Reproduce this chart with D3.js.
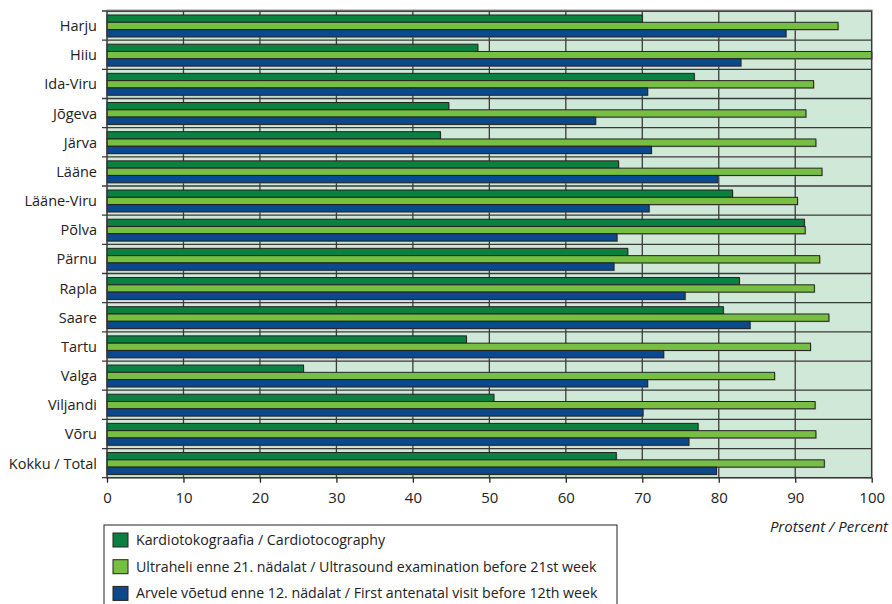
<!DOCTYPE html>
<html>
<head>
<meta charset="utf-8">
<script src="https://cdn.jsdelivr.net/npm/d3@7"></script>
<style>
  body { margin: 0; background: #fff; }
  svg { display: block; font-family: "Open Sans", sans-serif; }
</style>
</head>
<body>
<script>
// counties, top to bottom
var counties = ["Harju", "Hiiu", "Ida-Viru", "Jõgeva", "Järva", "Lääne", "Lääne-Viru", "Põlva",
  "Pärnu", "Rapla", "Saare", "Tartu", "Valga", "Viljandi", "Võru", "Kokku / Total"];

// series values, percent
var ctg = [70.0, 48.5, 76.8, 44.7, 43.6, 66.9, 81.8, 91.2, 68.1, 82.7, 80.6, 47.0, 25.7, 50.6, 77.3, 66.6];
var ultrasound = [95.6, 100, 92.4, 91.4, 92.7, 93.5, 90.3, 91.3, 93.2, 92.5, 94.4, 92.0, 87.3, 92.6, 92.7, 93.8];
var antenatal = [88.8, 82.9, 70.7, 63.9, 71.2, 79.9, 70.9, 66.7, 66.3, 75.6, 84.1, 72.8, 70.7, 70.1, 76.1, 79.7];

var seriesNames = ["Kardiotokograafia / Cardiotocography",
  "Ultraheli enne 21. nädalat / Ultrasound examination before 21st week",
  "Arvele võetud enne 12. nädalat / First antenatal visit before 12th week"];
var seriesColors = ["#0b8040", "#76bf43", "#0a4a8c"];
var xTicks = [0, 10, 20, 30, 40, 50, 60, 70, 80, 90, 100];

var w = 892, h = 604;
var margin = {top: 11, left: 107, right: 20, bottom: 126};
var pw = 871.7 - margin.left;
var ph = 477.7 - margin.top;

var svg = d3.select("body").append("svg")
  .attr("width", w)
  .attr("height", h);

var g = svg.append("g")
  .attr("transform", "translate(" + margin.left + "," + margin.top + ")");

var x = d3.scaleLinear().domain([0, 100]).range([0, pw]);
var y = d3.scaleBand().domain(counties).range([0, ph]).paddingInner(0.25).paddingOuter(0.125).align(0.55);
var ySub = d3.scaleBand().domain([0, 1, 2]).range([0, y.bandwidth()]);

// plot background
g.append("rect")
  .attr("width", pw)
  .attr("height", ph)
  .attr("fill", "#d0e8d8");

// vertical grid
g.selectAll(".vgrid")
  .data(xTicks.slice(1, -1))
  .enter().append("line")
  .attr("x1", d => x(d)).attr("x2", d => x(d))
  .attr("y1", 0).attr("y2", ph)
  .attr("stroke", "#3a3a3a")
  .attr("stroke-width", 1.3);

// horizontal lines at category boundaries
var step = ph / counties.length;
var bounds = d3.range(counties.length + 1).map(i => i * step);
g.selectAll(".hgrid")
  .data(bounds)
  .enter().append("line")
  .attr("x1", -5).attr("x2", pw)
  .attr("y1", d => d).attr("y2", d => d)
  .attr("stroke", "#3a3a3a")
  .attr("stroke-width", 1.3);

// bars
var rows = counties.map((c, i) => ({county: c, values: [ctg[i], ultrasound[i], antenatal[i]]}));
var groups = g.selectAll(".grp")
  .data(rows)
  .enter().append("g")
  .attr("transform", d => "translate(0," + y(d.county) + ")");

// faint shadow under bars
groups.selectAll(".shadow")
  .data(d => d.values)
  .enter().append("rect")
  .attr("x", 1)
  .attr("y", (d, i) => ySub(i) + 1)
  .attr("width", d => x(d))
  .attr("height", ySub.bandwidth())
  .attr("fill", "#9a9a9a")
  .attr("opacity", 0.6);

groups.selectAll(".bar")
  .data(d => d.values)
  .enter().append("rect")
  .attr("x", 0)
  .attr("y", (d, i) => ySub(i))
  .attr("width", d => x(d))
  .attr("height", ySub.bandwidth())
  .attr("fill", (d, i) => seriesColors[i])
  .attr("stroke", "#222")
  .attr("stroke-width", 1);

// frame
g.append("rect")
  .attr("width", pw)
  .attr("height", ph)
  .attr("fill", "none")
  .attr("stroke", "#3a3a3a")
  .attr("stroke-width", 1.5);
g.append("line")
  .attr("x1", 0).attr("x2", pw + 1)
  .attr("y1", -1).attr("y2", -1)
  .attr("stroke", "#999");

// x axis
var xAxis = g.append("g")
  .attr("transform", "translate(0," + ph + ")")
  .call(d3.axisBottom(x).tickValues(xTicks).tickSize(5).tickPadding(10));
xAxis.select(".domain").remove();
xAxis.selectAll("line").attr("stroke", "#222").attr("stroke-width", 1.3);
xAxis.selectAll("text")
  .attr("fill", "#222")
  .style("font-size", "15px")
  .style("font-family", "Open Sans, sans-serif");

// category labels
g.selectAll(".ylab")
  .data(counties)
  .enter().append("text")
  .attr("x", -10)
  .attr("y", d => y(d) + y.bandwidth() / 2)
  .attr("dy", "0.35em")
  .attr("text-anchor", "end")
  .attr("fill", "#222")
  .style("font-size", "14.5px")
  .text(d => d);

// axis title
svg.append("text")
  .attr("x", 888)
  .attr("y", 532)
  .attr("text-anchor", "end")
  .attr("fill", "#222")
  .style("font-size", "15px")
  .style("font-style", "italic")
  .text("Protsent / Percent");

// legend
var legend = svg.append("g").attr("transform", "translate(104,525)");
legend.append("rect")
  .attr("width", 513)
  .attr("height", 100)
  .attr("fill", "#fff")
  .attr("stroke", "#222")
  .attr("stroke-width", 1);

var items = legend.selectAll(".item")
  .data(seriesNames)
  .enter().append("g")
  .attr("transform", (d, i) => "translate(9," + (8 + i * 26.7) + ")");
items.append("rect")
  .attr("width", 15)
  .attr("height", 14)
  .attr("fill", (d, i) => seriesColors[i])
  .attr("stroke", "#222");
items.append("text")
  .attr("x", 23)
  .attr("y", 7)
  .attr("dy", "0.35em")
  .attr("fill", "#222")
  .style("font-size", "14.2px")
  .text(d => d);
</script>
</body>
</html>
